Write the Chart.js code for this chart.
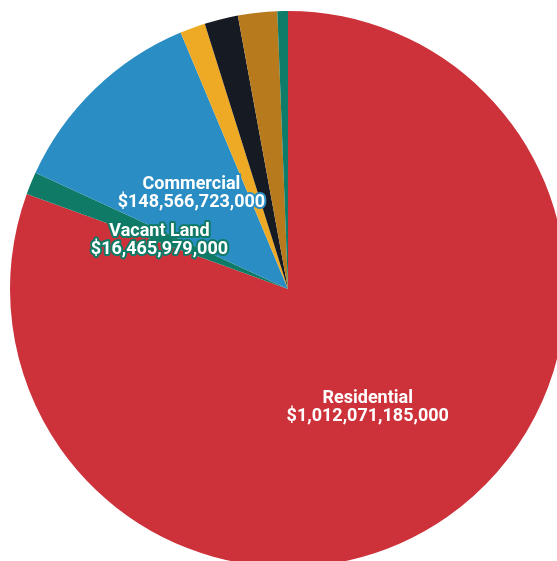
<!DOCTYPE html>
<html>
<head>
<meta charset="utf-8">
<title>Assessed value by property class</title>
<script src="https://cdn.jsdelivr.net/npm/chart.js@4/dist/chart.umd.min.js"></script>
<style>
  html, body { margin: 0; padding: 0; background: #ffffff; overflow: hidden; }
  #wrap { position: absolute; left: 0; top: 0; width: 576px; height: 578px; }
</style>
</head>
<body>
<div id="wrap"><canvas id="chart"></canvas></div>
<script>
// Property classes, clockwise from twelve o'clock
const classes = ['Residential', 'Vacant Land', 'Commercial', 'Industrial', 'Agricultural', 'Exempt', 'Other'];
// Total assessed value per class, in dollars
const assessedValues = [1012071185000, 16465979000, 148566723000, 18500000000, 24500000000, 28600000000, 7700000000];
// Slice colours
const sliceColors = ['#cd323b', '#0f7a66', '#2a8dc4', '#eeaa25', '#161b23', '#b77b1d', '#0e7c68'];
// Which slices carry a name/value label
const labelled = [true, true, true, false, false, false, false];

const money = v => '$' + v.toLocaleString('en-US');

// Two-line white labels with an outline in the slice's own colour
const sliceLabels = {
  id: 'sliceLabels',
  afterDatasetsDraw(chart) {
    const ctx = chart.ctx;
    const meta = chart.getDatasetMeta(0);
    const ds = chart.data.datasets[0];
    ctx.save();
    ctx.font = 'bold 18px Roboto, "Liberation Sans", sans-serif';
    ctx.textAlign = 'center';
    ctx.textBaseline = 'alphabetic';
    ctx.lineJoin = 'round';
    meta.data.forEach((arc, i) => {
      if (!labelled[i]) return;
      const p = arc.tooltipPosition();
      const lines = [chart.data.labels[i], money(ds.data[i])];
      lines.forEach((t, k) => {
        const y = p.y + k * 18;
        ctx.lineWidth = 4;
        ctx.strokeStyle = sliceColors[i];
        ctx.strokeText(t, p.x, y);
        ctx.fillStyle = '#ffffff';
        ctx.fillText(t, p.x, y);
      });
    });
    ctx.restore();
  }
};

new Chart(document.getElementById('chart'), {
  type: 'pie',
  data: {
    labels: classes,
    datasets: [{
      data: assessedValues,
      backgroundColor: sliceColors,
      borderWidth: 0
    }]
  },
  options: {
    responsive: true,
    maintainAspectRatio: false,
    devicePixelRatio: 1,
    animation: false,
    radius: 278,
    layout: { padding: 0 },
    events: [],
    plugins: {
      legend: { display: false },
      tooltip: { enabled: false },
      title: { display: false }
    }
  },
  plugins: [sliceLabels]
});
</script>
</body>
</html>
